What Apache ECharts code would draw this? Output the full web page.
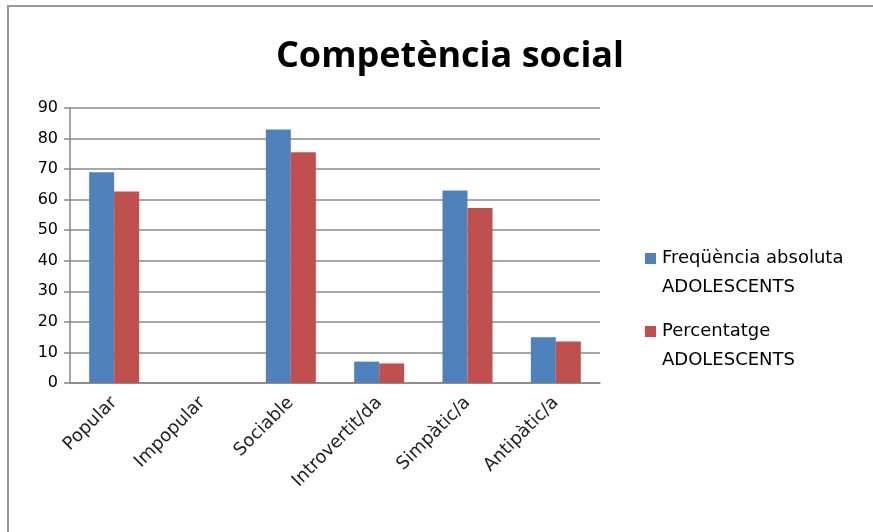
<!DOCTYPE html>
<html>
<head>
<meta charset="utf-8">
<script src="https://cdn.jsdelivr.net/npm/echarts@6/dist/echarts.min.js"></script>
<style>
html,body{margin:0;padding:0;background:#fff;}
#frame{position:absolute;left:7px;top:5px;width:880px;height:540px;border:2px solid #9a9a9a;box-sizing:border-box;}
#chart{position:absolute;left:0;top:0;width:873px;height:532px;}
</style>
</head>
<body>
<div id="frame"></div>
<div id="chart"></div>
<script>
const titleText = 'Competència social';
const categories = ['Popular', 'Impopular', 'Sociable', 'Introvertit/da', 'Simpàtic/a', 'Antipàtic/a'];
const seriesNames = ['Freqüència absoluta ADOLESCENTS', 'Percentatge ADOLESCENTS'];
const legendLabels = ['Freqüència absoluta\nADOLESCENTS', 'Percentatge\nADOLESCENTS'];
const freqValues = [69, 0, 83, 7, 63, 15];
const pctValues = [62.7, 0, 75.5, 6.4, 57.3, 13.6];
const yTicks = [0, 10, 20, 30, 40, 50, 60, 70, 80, 90];

const font = '"DejaVu Sans", sans-serif';
const chart = echarts.init(document.getElementById('chart'));
const icon = 'path://M0,0L11,0L11,11L0,11Z M0,40L0.001,40';
chart.setOption({
  animation: false,
  backgroundColor: 'transparent',
  title: {
    text: titleText,
    left: 445, top: 34, textAlign: 'center',
    textStyle: {fontFamily: '"Open Sans", sans-serif', fontWeight: 'bold', fontSize: 36, color: '#000'}
  },
  grid: {left: 70, right: 273, top: 108, bottom: 149, containLabel: false},
  legend: {
    orient: 'vertical',
    left: 640, top: 239,
    itemWidth: 11, itemHeight: 40,
    itemGap: 15,
    icon: icon,
    data: seriesNames,
    formatter: function (n) { return legendLabels[seriesNames.indexOf(n)]; },
    textStyle: {fontFamily: font, fontSize: 18, color: '#000', lineHeight: 29, padding: [0,0,0,1]}
  },
  xAxis: {
    type: 'category',
    data: categories,
    axisLine: {lineStyle: {color: '#888', width: 1.5}},
    axisTick: {show: false},
    axisLabel: {rotate: 45, interval: 0, fontFamily: font, fontSize: 18, color: '#222', margin: 17}
  },
  yAxis: {
    type: 'value',
    min: yTicks[0], max: yTicks[yTicks.length - 1], interval: 10,
    axisLine: {show: true, lineStyle: {color: '#888', width: 1.5}},
    axisTick: {show: true, length: 6, lineStyle: {color: '#888', width: 1.5}},
    axisLabel: {fontFamily: font, fontSize: 16, color: '#000', margin: 12},
    splitLine: {lineStyle: {color: '#8a8a8a', width: 1.5}}
  },
  series: [
    {name: seriesNames[0], type: 'bar', data: freqValues, barWidth: 25, barGap: '0%',
     itemStyle: {color: '#4F81BD'}},
    {name: seriesNames[1], type: 'bar', data: pctValues, barWidth: 25, barGap: '0%',
     itemStyle: {color: '#C0504D'}}
  ]
});
</script>
</body>
</html>
